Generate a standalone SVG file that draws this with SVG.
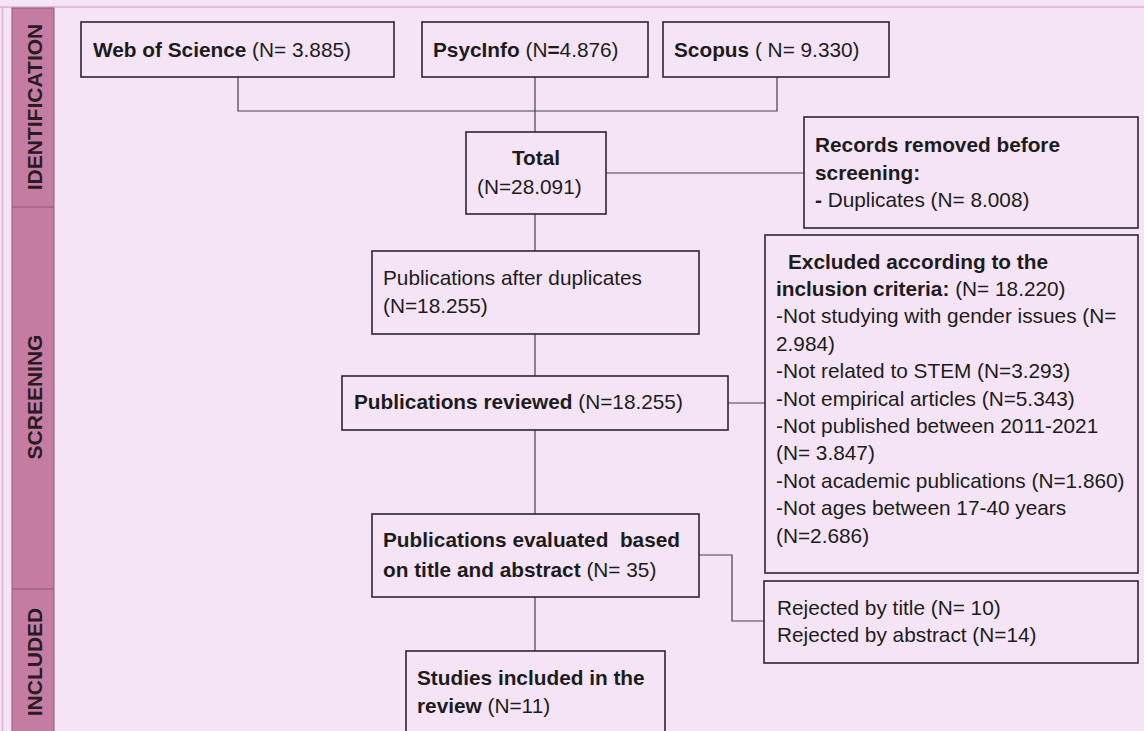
<svg xmlns="http://www.w3.org/2000/svg" width="1144" height="731" viewBox="0 0 1144 731">
<style>
.box{fill:none;stroke:#2e2430;stroke-width:1.6}
.ln{fill:none;stroke:#4a404a;stroke-width:1.2}
text{font-family:"Liberation Sans",Arial,sans-serif;font-size:20.8px;fill:#1c1c1c}
.b{font-weight:bold}
.side{font-family:"Liberation Sans",Arial,sans-serif;font-size:21px;font-weight:bold;fill:#2a1a24}
</style>
<rect x="0" y="0" width="1144" height="731" fill="#f5e4f5"/>
<line x1="0" y1="7" x2="1144" y2="7" stroke="#d8b0d0" stroke-width="1.5"/>
<line x1="2.5" y1="7" x2="2.5" y2="731" stroke="#d8b0d0" stroke-width="1.5"/>
<g id="sidebar">
<rect x="12" y="8" width="42" height="740" fill="#c47ca2" stroke="#8e5a78" stroke-width="1"/>
<line x1="12" y1="207" x2="54" y2="207" stroke="#8e5a78" stroke-width="1"/>
<line x1="12" y1="589" x2="54" y2="589" stroke="#8e5a78" stroke-width="1"/>
<text class="side" transform="translate(42,107) rotate(-90)" text-anchor="middle">IDENTIFICATION</text>
<text class="side" transform="translate(42,397) rotate(-90)" text-anchor="middle">SCREENING</text>
<text class="side" transform="translate(42,662) rotate(-90)" text-anchor="middle">INCLUDED</text>
</g>
<g id="connectors">
<polyline class="ln" points="238,77 238,111 777,111 777,77"/>
<line class="ln" x1="535" y1="77" x2="535" y2="132"/>
<line class="ln" x1="606" y1="173" x2="804" y2="173"/>
<line class="ln" x1="535" y1="214" x2="535" y2="251"/>
<line class="ln" x1="535" y1="334" x2="535" y2="376"/>
<line class="ln" x1="728" y1="403" x2="765" y2="403"/>
<line class="ln" x1="535" y1="430" x2="535" y2="514"/>
<polyline class="ln" points="699,555 732,555 732,621 764,621"/>
<line class="ln" x1="535" y1="597" x2="535" y2="651"/>
</g>
<g id="wos">
<rect class="box" x="81" y="22" width="313" height="55"/>
<text x="93" y="57"><tspan class="b">Web of Science</tspan> (N= 3.885)</text>
</g>
<g id="psycinfo">
<rect class="box" x="422" y="22" width="226" height="55"/>
<text x="433" y="57"><tspan class="b">PsycInfo</tspan> (N<tspan class="b">=</tspan>4.876)</text>
</g>
<g id="scopus">
<rect class="box" x="663" y="22" width="226" height="55"/>
<text x="674" y="57"><tspan class="b">Scopus</tspan> ( N= 9.330)</text>
</g>
<g id="total">
<rect class="box" x="466" y="132" width="140" height="82"/>
<text class="b" x="536" y="165" text-anchor="middle">Total</text>
<text x="477" y="194">(N=28.091)</text>
</g>
<g id="removed">
<rect class="box" x="804" y="117" width="334" height="111"/>
<text class="b" x="815" y="152">Records removed before</text>
<text class="b" x="815" y="180">screening:</text>
<text x="815" y="207"><tspan class="b">-</tspan> Duplicates (N= 8.008)</text>
</g>
<g id="afterdup">
<rect class="box" x="372" y="251" width="327" height="83"/>
<text x="383" y="285">Publications after duplicates</text>
<text x="383" y="313">(N=18.255)</text>
</g>
<g id="reviewed">
<rect class="box" x="342" y="376" width="386" height="54"/>
<text x="354" y="409"><tspan class="b">Publications reviewed</tspan> (N=18.255)</text>
</g>
<g id="excluded">
<rect class="box" x="765" y="235" width="373" height="338"/>
<text class="b" x="788" y="269">Excluded according to the</text>
<text x="776" y="296"><tspan class="b">inclusion criteria:</tspan> (N= 18.220)</text>
<text x="776" y="323">-Not studying with gender issues (N=</text>
<text x="776" y="351">2.984)</text>
<text x="776" y="378">-Not related to STEM (N=3.293)</text>
<text x="776" y="406">-Not empirical articles (N=5.343)</text>
<text x="776" y="433">-Not published between 2011-2021</text>
<text x="776" y="460">(N= 3.847)</text>
<text x="776" y="488">-Not academic publications (N=1.860)</text>
<text x="776" y="515">-Not ages between 17-40 years</text>
<text x="776" y="543">(N=2.686)</text>
</g>
<g id="evaluated">
<rect class="box" x="372" y="514" width="327" height="83"/>
<text class="b" x="383" y="547" xml:space="preserve">Publications evaluated  based</text>
<text x="383" y="577"><tspan class="b">on title and abstract</tspan> (N= 35)</text>
</g>
<g id="rejected">
<rect class="box" x="764" y="581" width="374" height="82"/>
<text x="777" y="615">Rejected by title (N= 10)</text>
<text x="777" y="642">Rejected by abstract (N=14)</text>
</g>
<g id="included">
<rect class="box" x="406" y="651" width="259" height="100"/>
<text class="b" x="417" y="685">Studies included in the</text>
<text x="417" y="713"><tspan class="b">review</tspan> (N=11)</text>
</g>
</svg>
